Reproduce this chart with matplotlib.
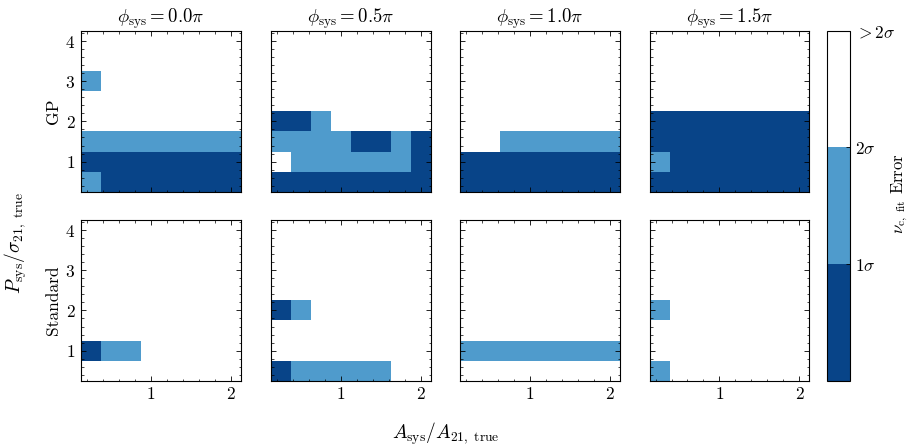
import numpy as np
import matplotlib
matplotlib.use("Agg")
import matplotlib.pyplot as plt
from matplotlib.colors import ListedColormap, BoundaryNorm
from matplotlib.ticker import AutoMinorLocator

plt.rcParams["font.family"] = "serif"
plt.rcParams["font.serif"] = ["cmr10", "DejaVu Serif"]
plt.rcParams["mathtext.fontset"] = "cm"
plt.rcParams["axes.unicode_minus"] = False
plt.rcParams["axes.formatter.use_mathtext"] = True
plt.rcParams["font.size"] = 12.5

# grid of injected systematics
a_sys = [0.25, 0.5, 0.75, 1.0, 1.25, 1.5, 1.75, 2.0]
p_sys = [0.5, 1.0, 1.5, 2.0, 2.5, 3.0, 3.5, 4.0]
phi_sys = [0.0, 0.5, 1.0, 1.5]
methods = ["GP", "Standard"]

# error class per cell: 0 = <1 sigma, 1 = 1-2 sigma, 2 = >2 sigma
# rows go from p_sys = 0.5 (bottom) to 4.0 (top)
gp_phi00 = [
    [1, 0, 0, 0, 0, 0, 0, 0],
    [0, 0, 0, 0, 0, 0, 0, 0],
    [1, 1, 1, 1, 1, 1, 1, 1],
    [2, 2, 2, 2, 2, 2, 2, 2],
    [2, 2, 2, 2, 2, 2, 2, 2],
    [1, 2, 2, 2, 2, 2, 2, 2],
    [2, 2, 2, 2, 2, 2, 2, 2],
    [2, 2, 2, 2, 2, 2, 2, 2],
]
gp_phi05 = [
    [0, 0, 0, 0, 0, 0, 0, 0],
    [2, 1, 1, 1, 1, 1, 1, 0],
    [1, 1, 1, 1, 0, 0, 1, 0],
    [0, 0, 1, 2, 2, 2, 2, 2],
    [2, 2, 2, 2, 2, 2, 2, 2],
    [2, 2, 2, 2, 2, 2, 2, 2],
    [2, 2, 2, 2, 2, 2, 2, 2],
    [2, 2, 2, 2, 2, 2, 2, 2],
]
gp_phi10 = [
    [0, 0, 0, 0, 0, 0, 0, 0],
    [0, 0, 0, 0, 0, 0, 0, 0],
    [2, 2, 1, 1, 1, 1, 1, 1],
    [2, 2, 2, 2, 2, 2, 2, 2],
    [2, 2, 2, 2, 2, 2, 2, 2],
    [2, 2, 2, 2, 2, 2, 2, 2],
    [2, 2, 2, 2, 2, 2, 2, 2],
    [2, 2, 2, 2, 2, 2, 2, 2],
]
gp_phi15 = [
    [0, 0, 0, 0, 0, 0, 0, 0],
    [1, 0, 0, 0, 0, 0, 0, 0],
    [0, 0, 0, 0, 0, 0, 0, 0],
    [0, 0, 0, 0, 0, 0, 0, 0],
    [2, 2, 2, 2, 2, 2, 2, 2],
    [2, 2, 2, 2, 2, 2, 2, 2],
    [2, 2, 2, 2, 2, 2, 2, 2],
    [2, 2, 2, 2, 2, 2, 2, 2],
]
std_phi00 = [
    [2, 2, 2, 2, 2, 2, 2, 2],
    [0, 1, 1, 2, 2, 2, 2, 2],
    [2, 2, 2, 2, 2, 2, 2, 2],
    [2, 2, 2, 2, 2, 2, 2, 2],
    [2, 2, 2, 2, 2, 2, 2, 2],
    [2, 2, 2, 2, 2, 2, 2, 2],
    [2, 2, 2, 2, 2, 2, 2, 2],
    [2, 2, 2, 2, 2, 2, 2, 2],
]
std_phi05 = [
    [0, 1, 1, 1, 1, 1, 2, 2],
    [2, 2, 2, 2, 2, 2, 2, 2],
    [2, 2, 2, 2, 2, 2, 2, 2],
    [0, 1, 2, 2, 2, 2, 2, 2],
    [2, 2, 2, 2, 2, 2, 2, 2],
    [2, 2, 2, 2, 2, 2, 2, 2],
    [2, 2, 2, 2, 2, 2, 2, 2],
    [2, 2, 2, 2, 2, 2, 2, 2],
]
std_phi10 = [
    [2, 2, 2, 2, 2, 2, 2, 2],
    [1, 1, 1, 1, 1, 1, 1, 1],
    [2, 2, 2, 2, 2, 2, 2, 2],
    [2, 2, 2, 2, 2, 2, 2, 2],
    [2, 2, 2, 2, 2, 2, 2, 2],
    [2, 2, 2, 2, 2, 2, 2, 2],
    [2, 2, 2, 2, 2, 2, 2, 2],
    [2, 2, 2, 2, 2, 2, 2, 2],
]
std_phi15 = [
    [1, 2, 2, 2, 2, 2, 2, 2],
    [2, 2, 2, 2, 2, 2, 2, 2],
    [2, 2, 2, 2, 2, 2, 2, 2],
    [1, 2, 2, 2, 2, 2, 2, 2],
    [2, 2, 2, 2, 2, 2, 2, 2],
    [2, 2, 2, 2, 2, 2, 2, 2],
    [2, 2, 2, 2, 2, 2, 2, 2],
    [2, 2, 2, 2, 2, 2, 2, 2],
]
grids = [[gp_phi00, gp_phi05, gp_phi10, gp_phi15],
         [std_phi00, std_phi05, std_phi10, std_phi15]]

cbar_ticks = [1, 2, 3]
cbar_labels = [r"$1\sigma$", r"$2\sigma$", r"$>2\sigma$"]

cmap = ListedColormap(["#084488", "#4f9bcc", "#ffffff"])
norm = BoundaryNorm([0, 1, 2, 3], cmap.N)


def edges(centers):
    c = np.asarray(centers)
    d = c[1] - c[0]
    return np.append(c - d / 2, c[-1] + d / 2)


xe, ye = edges(a_sys), edges(p_sys)

fig = plt.figure(figsize=(9.13, 4.48), dpi=100)
lefts = [0.0887, 0.2965, 0.5038, 0.7114]
bottoms = [0.5721, 0.1502]
w, h = 0.1752, 0.3585

for r in range(2):
    for c in range(4):
        ax = fig.add_axes([lefts[c], bottoms[r], w, h])
        mesh = ax.pcolormesh(xe, ye, np.array(grids[r][c]) + 0.5, cmap=cmap, norm=norm)
        ax.set_xlim(xe[0], xe[-1])
        ax.set_ylim(ye[0], ye[-1])
        ax.set_xticks([1, 2])
        ax.set_yticks([1, 2, 3, 4])
        ax.xaxis.set_minor_locator(AutoMinorLocator(5))
        ax.yaxis.set_minor_locator(AutoMinorLocator(5))
        ax.tick_params(which="both", direction="in", top=True, right=True)
        ax.tick_params(which="major", length=3.5, width=0.6, pad=4)
        ax.tick_params(which="minor", length=1.8, width=0.5)
        for s in ax.spines.values():
            s.set_linewidth(0.8)
        if r == 0:
            ax.set_xticklabels([])
            ax.set_title(r"$\phi_{\rm sys} = %.1f\pi$" % phi_sys[c], fontsize=13.5, pad=5)
        if c > 0:
            ax.set_yticklabels([])
        else:
            ax.set_ylabel(methods[r], fontsize=12.5, labelpad=3)

cax = fig.add_axes([0.9058, 0.1502, 0.0252, 0.7812])
cb = fig.colorbar(mesh, cax=cax, ticks=cbar_ticks)
cb.ax.set_yticklabels(cbar_labels)
cb.ax.tick_params(direction="in", length=3, width=0.6, labelsize=12.5)
cb.ax.minorticks_off()
cb.outline.set_linewidth(0.8)

# colorbar label placed by hand so it stays inside the canvas
fig.text(0.986, 0.567, r"$\nu_{\rm c,\ fit}$ Error", rotation=90,
         ha="center", va="center", fontsize=12)

fig.text(0.017, 0.457, r"$P_{\rm sys}/\sigma_{21,\ \rm true}$", rotation=90,
         ha="center", va="center", fontsize=14)
fig.text(0.488, 0.032, r"$A_{\rm sys}/A_{21,\ \rm true}$",
         ha="center", va="center", fontsize=14)

fig.savefig("out.png", dpi=100)
